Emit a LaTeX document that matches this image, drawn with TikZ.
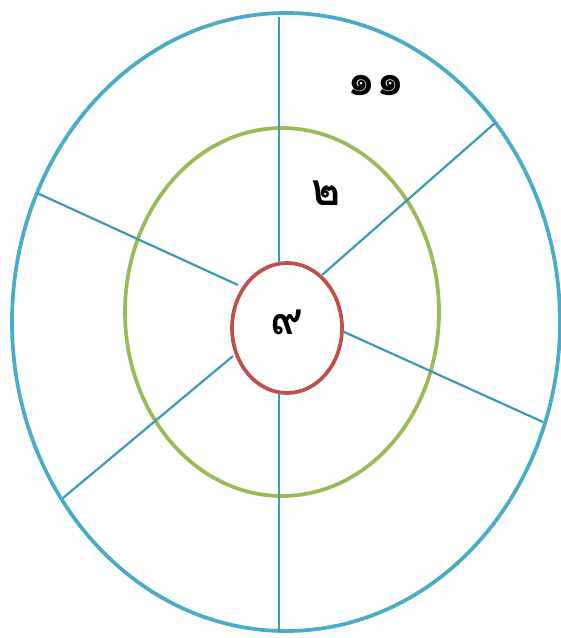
\documentclass[tikz,border=0pt]{standalone}
\usepackage{fontspec}
\usepackage{tikz}
\usetikzlibrary{positioning}
\usepackage{xcolor}
\newfontfamily\thaifont[Script=Thai]{Loma}
\definecolor{ringblue}{HTML}{4BACC6}
\definecolor{spokeblue}{HTML}{3E9BB3}
\definecolor{ringgreen}{HTML}{9BBB59}
\definecolor{ringred}{HTML}{C0504D}

\begin{document}
\begin{tikzpicture}[
      x=0.03cm, y=-0.03cm,
      ring/.style={line width=3.2pt},
      spoke/.style={spokeblue, line width=1.9pt},
      num/.style={font=\thaifont\bfseries\fontsize{38}{42}\selectfont, inner sep=0pt}
    ]
      \useasboundingbox (0,0) rectangle (561,638);
      % rings
      \draw[ring, ringblue] (286,322) ellipse [x radius=274, y radius=309];
      \draw[ring, ringgreen] (282,312) ellipse [x radius=157, y radius=184];
      \draw[ring, ringred] (287,328) ellipse [x radius=55, y radius=65];
      % spoke ends
      \coordinate (top out) at (279,17);
      \coordinate (top in) at (279,263);
      \coordinate (ur out) at (495,123);
      \coordinate (ur in) at (322,275);
      \coordinate (ul out) at (37,193);
      \coordinate (ul in) at (238,285);
      \coordinate (lr out) at (543,422);
      \coordinate (lr in) at (342,331);
      \coordinate (ll out) at (63,498);
      \coordinate (ll in) at (233,356);
      \coordinate (bot out) at (279,632);
      \coordinate (bot in) at (279,393);
      \foreach \s in {top,ur,ul,lr,ll,bot}
        \draw[spoke] (\s\space out) -- (\s\space in);
      % numbers
      \node[num] (outer) at (376,86) {๑๑};
      \node[num] (middle) at (326,193) {๒};
      \node[num] (inner) at (287,322) {๙};
    \end{tikzpicture}
\end{document}
